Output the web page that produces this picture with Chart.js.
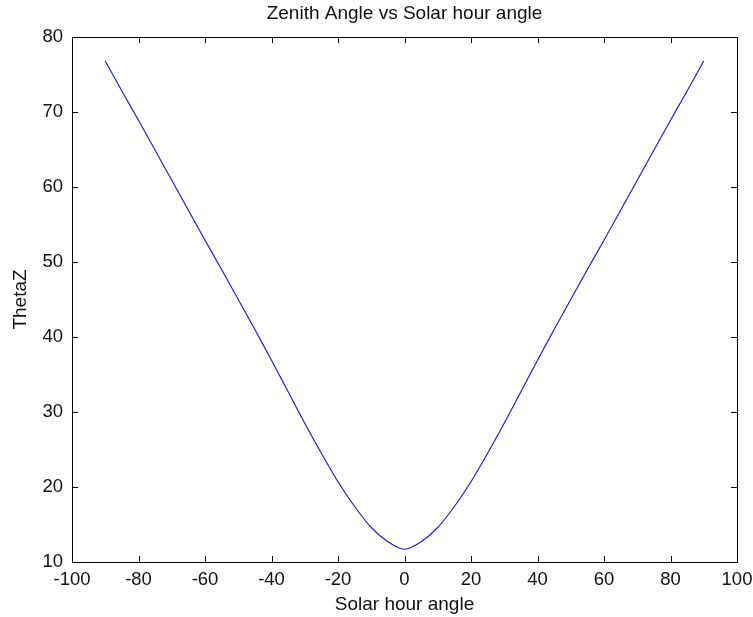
<!DOCTYPE html>
<html>
<head>
<meta charset="utf-8">
<title>Zenith Angle vs Solar hour angle</title>
<script src="https://cdn.jsdelivr.net/npm/chart.js@4.4.1/dist/chart.umd.min.js"></script>
<style>
  html, body { margin: 0; padding: 0; background: #fff; }
  #wrap { width: 753px; height: 617px; }
</style>
</head>
<body>
<div id="wrap"><canvas id="zenith_graph" width="753" height="617"></canvas></div>
<script>
// values
var hourAngle = [-90, -85, -80, -75, -70, -65, -60, -55, -50, -45, -40, -35, -30, -25, -20, -15, -10, -5,
                 0, 5, 10, 15, 20, 25, 30, 35, 40, 45, 50, 55, 60, 65, 70, 75, 80, 85, 90];
var thetaZ = [76.8, 72.8, 68.9, 64.9, 60.9, 56.9, 52.9, 49.0, 45.0, 41.0, 36.9, 32.7, 28.5, 24.5, 20.7, 17.4, 14.6, 12.7,
              11.7, 12.7, 14.6, 17.4, 20.7, 24.5, 28.5, 32.7, 36.9, 41.0, 45.0, 49.0, 52.9, 56.9, 60.9, 64.9, 68.9, 72.8, 76.8];

var xTicks = [-100, -80, -60, -40, -20, 0, 20, 40, 60, 80, 100];
var yTicks = [10, 20, 30, 40, 50, 60, 70, 80];

var fontFamily = "'Liberation Sans', Arial, Helvetica, sans-serif";

var points = [];
for (var i = 0; i < hourAngle.length; i++) {
    points.push({ x: hourAngle[i], y: thetaZ[i] });
}

// matlab style box with inward ticks
var boxPlugin = {
    id: 'matlabBox',
    afterDraw: function(chart) {
        var ctx = chart.ctx;
        var area = chart.chartArea;
        var xs = chart.scales.x;
        var ys = chart.scales.y;
        var len = 6;
        ctx.save();
        ctx.strokeStyle = '#000';
        ctx.lineWidth = 1;
        ctx.beginPath();
        ctx.rect(Math.round(area.left) + 0.5, Math.round(area.top) + 0.5,
                 Math.round(area.right - area.left), Math.round(area.bottom - area.top));
        xTicks.forEach(function(v) {
            var px = Math.round(xs.getPixelForValue(v)) + 0.5;
            ctx.moveTo(px, area.bottom);
            ctx.lineTo(px, area.bottom - len);
            ctx.moveTo(px, area.top);
            ctx.lineTo(px, area.top + len);
        });
        yTicks.forEach(function(v) {
            var py = Math.round(ys.getPixelForValue(v)) + 0.5;
            ctx.moveTo(area.left, py);
            ctx.lineTo(area.left + len, py);
            ctx.moveTo(area.right, py);
            ctx.lineTo(area.right - len, py);
        });
        ctx.stroke();
        ctx.restore();
    }
};

// keep chart.js from adding its own label overhang padding
function noOverhang(scale) {
    scale.paddingLeft = 0;
    scale.paddingRight = 0;
    scale.paddingTop = 0;
    scale.paddingBottom = 0;
}

var ctx = document.getElementById('zenith_graph');

var chart = new Chart(ctx, {
    type: 'line',
    data: {
        datasets: [
            {
                label: 'ThetaZ',
                data: points,
                borderColor: '#2323c8',
                backgroundColor: '#2323c8',
                borderWidth: 1.2,
                fill: false,
                tension: 0.25,
                pointRadius: 0
            }
        ]
    },
    options: {
        responsive: false,
        animation: false,
        devicePixelRatio: 1,
        layout: { padding: { left: 0, right: 16, top: 0, bottom: 0 } },
        plugins: {
            legend: { display: false },
            tooltip: { enabled: false }
        },
        scales: {
            x: {
                type: 'linear',
                position: 'bottom',
                min: -100,
                max: 100,
                afterBuildTicks: function(scale) {
                    scale.ticks = xTicks.map(function(v) { return { value: v }; });
                },
                afterFit: function(scale) { scale.height = 55; noOverhang(scale); },
                grid: { display: false, drawTicks: false },
                border: { display: false },
                ticks: {
                    padding: 7,
                    color: '#111',
                    maxRotation: 0,
                    autoSkip: false,
                    font: { family: fontFamily, size: 18.5 }
                },
                title: {
                    display: true,
                    text: 'Solar hour angle',
                    color: '#111',
                    padding: { top: 0, bottom: 1 },
                    font: { family: fontFamily, size: 19 }
                }
            },
            xTop: {
                type: 'linear',
                position: 'top',
                min: -100,
                max: 100,
                afterFit: function(scale) { scale.height = 37; noOverhang(scale); },
                grid: { display: false, drawTicks: false },
                border: { display: false },
                ticks: { display: false },
                title: {
                    display: true,
                    text: 'Zenith Angle vs Solar hour angle',
                    color: '#111',
                    padding: { top: 2, bottom: 0 },
                    font: { family: fontFamily, size: 19 }
                }
            },
            y: {
                type: 'linear',
                position: 'left',
                min: 10,
                max: 80,
                afterBuildTicks: function(scale) {
                    scale.ticks = yTicks.map(function(v) { return { value: v }; });
                },
                afterFit: function(scale) { scale.width = 72; noOverhang(scale); },
                grid: { display: false, drawTicks: false },
                border: { display: false },
                ticks: {
                    padding: 9,
                    color: '#111',
                    autoSkip: false,
                    font: { family: fontFamily, size: 18.5 }
                },
                title: {
                    display: true,
                    text: 'ThetaZ',
                    color: '#111',
                    padding: { top: 9, bottom: 0 },
                    font: { family: fontFamily, size: 19 }
                }
            }
        }
    },
    plugins: [boxPlugin]
});
</script>
</body>
</html>
